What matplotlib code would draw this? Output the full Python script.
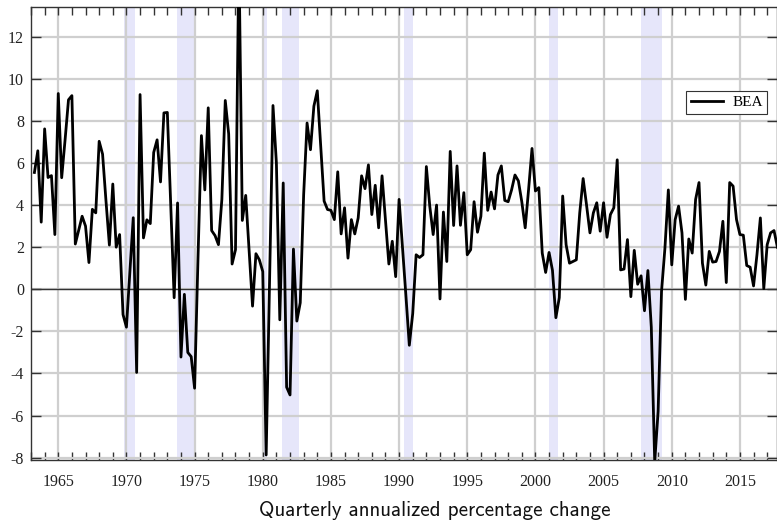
import matplotlib
matplotlib.use('Agg')
import matplotlib.pyplot as plt
from matplotlib.ticker import MultipleLocator, NullLocator
import pandas as pd

# BEA real GDP, quarterly annualized % change, first obs 1963Q2
gdp_1960s = [5.55, 6.58, 3.19,
             7.62, 5.31, 5.4, 2.6,
             9.3, 5.3, 7.1, 9.0,
             9.2, 2.15, 2.8, 3.47,
             3.0, 1.27, 3.8, 3.63,
             7.03, 6.42, 4.2, 2.1,
             5.0, 2.0, 2.6, -1.2]
gdp_1970s = [-1.8, 0.8, 3.4, -3.95,
             9.25, 2.44, 3.3, 3.12,
             6.5, 7.1, 5.1, 8.38,
             8.4, 4.0, -0.4, 4.1,
             -3.22, -0.24, -3.0, -3.2,
             -4.7, 1.5, 7.3, 4.72,
             8.62, 2.79, 2.55, 2.12,
             4.27, 8.97, 7.38, 1.2,
             1.88, 16.0, 3.27, 4.46,
             1.8, -0.8, 1.69, 1.4]
gdp_1980s = [0.84, -7.87, 0.4, 8.73,
             6.0, -1.45, 5.05, -4.65,
             -5.02, 1.91, -1.51, -0.64,
             4.5, 7.9, 6.63, 8.7,
             9.43, 6.8, 4.19, 3.79,
             3.75, 3.31, 5.58, 2.63,
             3.87, 1.48, 3.31, 2.63,
             3.39, 5.39, 4.78, 5.91,
             3.55, 4.94, 2.92, 5.39,
             3.31, 1.2, 2.28, 0.6]
gdp_1990s = [4.27, 2.0, -0.3, -2.66,
             -1.15, 1.64, 1.51, 1.64,
             5.83, 3.95, 2.6, 4.0,
             -0.46, 3.67, 1.32, 6.55,
             3.03, 5.86, 3.04, 4.59,
             1.64, 1.88, 4.16, 2.71,
             3.47, 6.47, 3.75, 4.62,
             3.82, 5.43, 5.86, 4.22,
             4.16, 4.72, 5.43, 5.15,
             4.16, 2.92, 4.75, 6.69]
gdp_2000s = [4.67, 4.83, 1.72, 0.8,
             1.75, 0.9, -1.35, -0.4,
             4.43, 2.12, 1.24, 1.32,
             1.4, 3.63, 5.26, 4.0,
             2.68, 3.63, 4.11, 2.76,
             4.11, 2.47, 3.55, 3.87,
             6.15, 0.92, 0.96, 2.36,
             -0.35, 1.85, 0.24, 0.64,
             -1.02, 0.89, -1.8, -8.2,
             -5.8, -0.1, 1.96, 4.72]
gdp_2010s = [1.16, 3.31, 3.95, 2.68,
             -0.48, 2.39, 1.72, 4.27,
             5.07, 1.24, 0.2, 1.8,
             1.29, 1.32, 1.8, 3.23,
             0.32, 5.07, 4.9, 3.31,
             2.6, 2.57, 1.13, 1.05,
             0.16, 1.64, 3.39, 0.03,
             2.12, 2.68, 2.79, 2.0]

# recession bands (decimal years)
rec_start = [1969.83, 1973.7, 1979.93, 1981.4, 1990.37, 2001.0, 2007.78]
rec_end = [1970.65, 1975.0, 1980.3, 1982.67, 1991.0, 2001.67, 2009.25]

gdp = gdp_1960s + gdp_1970s + gdp_1980s + gdp_1990s + gdp_2000s + gdp_2010s
quarters = pd.period_range('1963Q2', periods=len(gdp), freq='Q')
t = quarters.year + (quarters.quarter - 1) / 4.0

plt.rcParams['axes.unicode_minus'] = False
serif = ['Liberation Serif', 'DejaVu Serif']

fig = plt.figure(figsize=(7.77, 5.25), dpi=100)
ax = fig.add_axes([31 / 777, 65 / 525, 746 / 777, 453 / 525])

for s, e in zip(rec_start, rec_end):
    ax.axvspan(s, e, color='#e6e6fa', lw=0, zorder=0.2)

ax.set_axisbelow(True)
ax.grid(True, which='major', color='#cfcfcf', lw=1.6)
ax.axhline(0, color='#333333', lw=1.0, zorder=1)
ax.plot(t, gdp, color='black', lw=2, label='BEA', zorder=3)

ax.set_xlim(1963.0, 2017.72)
ax.set_ylim(-8.11, 13.41)
ax.xaxis.set_major_locator(MultipleLocator(5))
ax.xaxis.set_minor_locator(MultipleLocator(1))
ax.yaxis.set_major_locator(MultipleLocator(2))
ax.yaxis.set_minor_locator(NullLocator())
ax.tick_params(axis='x', which='both', direction='in', top=True, bottom=True,
               length=6, width=1, color='#333333', pad=10)
ax.tick_params(axis='y', which='major', direction='in', left=True, right=True,
               length=7, width=1, color='#333333', pad=5)
for lab in ax.get_xticklabels() + ax.get_yticklabels():
    lab.set_family(serif)
    lab.set_fontsize(11.5)
    lab.set_color('#222222')

for sp in ax.spines.values():
    sp.set_color('#333333')
    sp.set_linewidth(1)

ax.set_xlabel('Quarterly annualized percentage change', family=['cmss10', 'DejaVu Sans'],
              fontsize=15.2, color='#111111')
ax.xaxis.set_label_coords((435 - 31) / 746, -0.09)

leg = ax.legend(loc='center right', bbox_to_anchor=(0.987, 0.79), borderaxespad=0,
                fancybox=False, edgecolor='#333333', framealpha=1,
                prop={'family': serif, 'size': 11}, handlelength=2.1,
                handletextpad=0.6, borderpad=0.3)
leg.get_frame().set_linewidth(0.8)

fig.savefig('out.png', dpi=100)
